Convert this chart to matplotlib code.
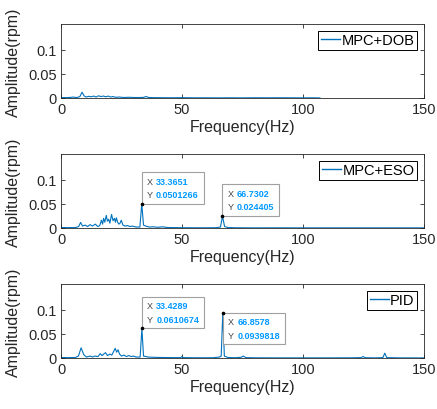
import matplotlib
matplotlib.use("Agg")
import matplotlib.pyplot as plt
from matplotlib.offsetbox import TextArea, HPacker, VPacker, AnnotationBbox

plt.rcParams['font.family'] = ['Liberation Sans', 'DejaVu Sans']

# ---------------- data ----------------
dob_f = [0, 2, 4, 5, 6, 7, 7.8, 8.7, 9.6, 10.5, 11.5, 12.5, 13.5, 14.5, 15.5, 16.5, 17.5,
         18.5, 19.5, 20.5, 21.5, 22.5, 24, 26, 28, 30, 32, 34, 35.2, 36.3, 38, 42, 46, 50,
         55, 60, 65, 70, 75, 80, 85, 90, 95, 100, 104, 107]
dob_a = [0.001, 0.0008, 0.0012, 0.002, 0.001, 0.0015, 0.003, 0.012, 0.004, 0.002, 0.0035,
         0.0025, 0.004, 0.002, 0.0045, 0.003, 0.004, 0.0025, 0.004, 0.002, 0.003, 0.0015,
         0.002, 0.001, 0.0015, 0.001, 0.001, 0.0012, 0.003, 0.001, 0.0008, 0.0006, 0.0005,
         0.0007, 0.0004, 0.0004, 0.0003, 0.0004, 0.0003, 0.0005, 0.0004, 0.0005, 0.0004,
         0.0003, 0.0004, 0.0002]

eso_f = [0, 3, 6, 7.3, 8.1, 8.9, 10, 11, 12, 13, 14.2, 15.2, 16, 16.7, 17.2, 17.6, 18.1,
         18.7, 19.2, 19.7, 20.2, 20.9, 21.5, 22.1, 22.5, 22.9, 23.4, 23.9, 24.4, 24.9, 25.6,
         26.5, 27.5, 28.5, 29.5, 31, 32.6, 33.3651, 34.1, 35, 36.5, 38, 40, 42, 44, 47, 50,
         55, 60, 64, 65.9, 66.7302, 67.6, 69, 72, 76, 80, 90, 100, 110, 120, 130, 140, 150]
eso_a = [0.001, 0.0008, 0.001, 0.003, 0.0115, 0.004, 0.006, 0.003, 0.007, 0.004, 0.008,
         0.003, 0.005, 0.016, 0.008, 0.02, 0.012, 0.026, 0.014, 0.018, 0.01, 0.028, 0.015,
         0.02, 0.012, 0.021, 0.012, 0.008, 0.01, 0.016, 0.006, 0.004, 0.005, 0.003, 0.004,
         0.002, 0.002, 0.0501266, 0.006, 0.004, 0.002, 0.0025, 0.0015, 0.0025, 0.001, 0.0008,
         0.0006, 0.0005, 0.0005, 0.0006, 0.002, 0.024405, 0.003, 0.001, 0.0005, 0.0004,
         0.0003, 0.0004, 0.0003, 0.0003, 0.0003, 0.0003, 0.0003, 0.0003]

pid_f = [0, 3, 6, 7.2, 8.3, 9.4, 10.5, 12, 13, 14, 15.3, 16.2, 17, 17.6, 18.4, 19.2, 20.2,
         21, 21.6, 22.4, 23, 23.6, 24.2, 25, 26, 27, 28, 29, 30, 31, 32.7, 33.4289, 34.1,
         36, 38, 40, 43, 46, 49.5, 50, 50.5, 55, 60, 63, 65.5, 66.2, 66.8578, 67.5, 69, 72,
         74.5, 75.3, 76.5, 80, 90, 100, 110, 120, 124, 124.8, 125.8, 130, 133, 133.8, 134.6,
         140, 150]
pid_a = [0.001, 0.0008, 0.001, 0.004, 0.021, 0.007, 0.002, 0.004, 0.002, 0.004, 0.003,
         0.009, 0.005, 0.008, 0.011, 0.005, 0.008, 0.006, 0.012, 0.02, 0.012, 0.017, 0.008,
         0.004, 0.006, 0.003, 0.005, 0.003, 0.004, 0.002, 0.002, 0.0610674, 0.004, 0.002,
         0.0015, 0.0012, 0.001, 0.0008, 0.0008, 0.003, 0.0008, 0.0005, 0.0005, 0.0006,
         0.002, 0.004, 0.0939818, 0.004, 0.001, 0.0006, 0.0015, 0.004, 0.0008, 0.0004,
         0.0003, 0.0003, 0.0003, 0.0004, 0.0008, 0.003, 0.0006, 0.0003, 0.0008, 0.01,
         0.0008, 0.0003, 0.0002]

labels = ["MPC+DOB", "MPC+ESO", "PID"]
tips = [[], [(33.3651, 0.0501266), (66.7302, 0.024405)],
        [(33.4289, 0.0610674), (66.8578, 0.0939818)]]
tip_below = [[], [False, False], [False, True]]

xticks = [0, 50, 100, 150]
yticks = [0, 0.05, 0.1]
ytick_labels = ["0", "0.05", "0.1"]

# ---------------- figure ----------------
W, H = 437, 410
fig = plt.figure(figsize=(W / 100, H / 100), dpi=100)
line_color = "#0072BD"
series = [(dob_f, dob_a), (eso_f, eso_a), (pid_f, pid_a)]
bottoms_px = [99, 229, 359]
left_px, width_px, height_px = 61, 363, 74

PAD = 0.35  # fraction of 10pt
off = PAD * 10

for i, ((f, a), lab) in enumerate(zip(series, labels)):
    ax = fig.add_axes([left_px / W, (H - bottoms_px[i]) / H, width_px / W, height_px / H])
    ax.plot(f, a, color=line_color, lw=0.8, label=lab)
    ax.set_xlim(0, 150)
    ax.set_ylim(0, 0.153)
    ax.set_xticks(xticks)
    ax.set_yticks(yticks)
    ax.set_yticklabels(ytick_labels)
    ax.tick_params(direction="in", length=3, width=0.6, top=True, right=True,
                   labelsize=10.5, colors="#262626", pad=3)
    for sp in ax.spines.values():
        sp.set_color("#262626")
        sp.set_linewidth(0.6)
    ax.set_xlabel("Frequency(Hz)", fontsize=11.5, color="#262626", labelpad=2)
    ax.set_ylabel("Amplitude(rpm)", fontsize=11.5, color="#262626", labelpad=5)
    leg = ax.legend(loc="upper right", fontsize=10.5, handlelength=1.3, handletextpad=0.1,
                    borderpad=0.2, borderaxespad=0.45, fancybox=False, framealpha=1)
    leg.get_frame().set_edgecolor("black")
    leg.get_frame().set_linewidth(0.7)
    for hl in leg.get_lines():
        hl.set_linewidth(1.0)

    for (tx, ty), below in zip(tips[i], tip_below[i]):
        rows = []
        for nm, v in (("X", tx), ("Y", ty)):
            rows.append(HPacker(children=[
                TextArea(nm, textprops=dict(color="#404040", fontsize=6.5)),
                TextArea("%g" % v, textprops=dict(color="#0099FF", fontsize=6.5,
                                                  fontweight="bold"))],
                align="baseline", pad=0, sep=2.5))
        box = VPacker(children=rows, align="left", pad=0, sep=3)
        al = (0, 1) if below else (0, 0)
        xyb = (off, -off) if below else (off, off)
        ab = AnnotationBbox(box, (tx, ty), xybox=xyb, xycoords="data",
                            boxcoords="offset points", box_alignment=al, pad=PAD,
                            bboxprops=dict(edgecolor="#A0A0A0", facecolor="white", lw=0.8),
                            zorder=6)
        ax.add_artist(ab)
        ax.plot([tx], [ty], "o", ms=1.6, color="black", zorder=7)

fig.savefig("out.png", dpi=100)
